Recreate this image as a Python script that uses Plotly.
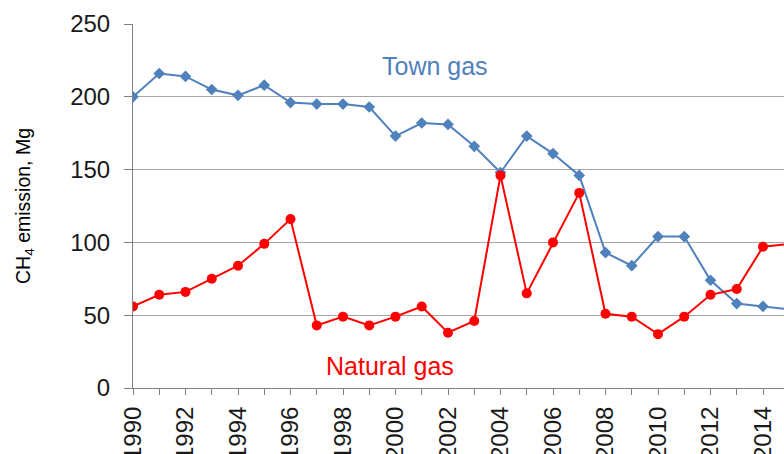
import plotly.graph_objects as go

years = list(range(1990, 2016))

# CH4 emissions, Mg
town_gas = [200, 216, 214, 205, 201, 208, 196, 195, 195, 193, 173, 182, 181, 166,
            148, 173, 161, 146, 93, 84, 104, 104, 74, 58, 56, 54]
natural_gas = [56, 64, 66, 75, 84, 99, 116, 43, 49, 43, 49, 56, 38, 46,
               146, 65, 100, 134, 51, 49, 37, 49, 64, 68, 97, 99]

tick_years = list(range(1990, 2016))
tick_text = [str(y) if y % 2 == 0 else "" for y in tick_years]

y_ticks = [0, 50, 100, 150, 200, 250]

BLUE = "#4F81BD"
RED = "#FF0000"
FONT = "Liberation Sans, Arial, sans-serif"

fig = go.Figure()
fig.add_trace(go.Scatter(
    x=years, y=town_gas, mode="lines+markers", name="Town gas",
    line=dict(color=BLUE, width=2),
    marker=dict(symbol="diamond", size=9, color=BLUE),
))
fig.add_trace(go.Scatter(
    x=years, y=natural_gas, mode="lines+markers", name="Natural gas",
    line=dict(color=RED, width=2),
    marker=dict(symbol="circle", size=10, color=RED),
))

fig.add_annotation(x=2001.5, y=221, text="Town gas", showarrow=False,
                   font=dict(family=FONT, size=25, color=BLUE))
fig.add_annotation(x=1999.8, y=15, text="Natural gas", showarrow=False,
                   font=dict(family=FONT, size=25, color=RED))

# rotated y-axis title, placed left of the tick labels
fig.add_annotation(xref="paper", yref="paper", x=-0.1674, y=0.5,
                   text="CH<sub>4</sub> emission, Mg", textangle=-90,
                   showarrow=False, xanchor="center", yanchor="middle",
                   font=dict(family=FONT, size=19.5, color="#000000"))

fig.update_layout(
    width=784, height=454,
    margin=dict(l=133, r=0, t=24, b=66),
    paper_bgcolor="white", plot_bgcolor="white",
    showlegend=False,
    font=dict(family=FONT, color="#000000"),
)
fig.update_xaxes(
    range=[1990, 2014.8], tickmode="array", tickvals=tick_years, ticktext=tick_text,
    tickangle=-90, ticks="outside", ticklen=6, tickcolor="#808080", tickwidth=1,
    ticklabelstandoff=2,
    tickfont=dict(family=FONT, size=24, color="#1a1a1a"),
    showline=True, linecolor="#808080", linewidth=1,
    showgrid=False, zeroline=False, automargin=False,
)
fig.update_yaxes(
    range=[0, 250], tickmode="array", tickvals=y_ticks,
    ticks="outside", ticklen=8, tickcolor="#808080", tickwidth=1,
    ticklabelstandoff=9,
    tickfont=dict(family=FONT, size=24, color="#1a1a1a"),
    showline=True, linecolor="#808080", linewidth=1,
    showgrid=True, gridcolor="#A6A6A6", gridwidth=1, zeroline=False,
    automargin=False,
)

fig.write_html("out.html")
